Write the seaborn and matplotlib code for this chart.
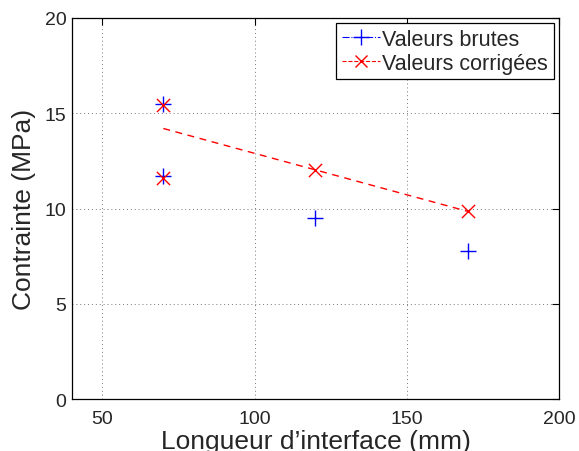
"""Contrainte vs longueur d'interface — valeurs brutes et corrigées."""

import matplotlib
matplotlib.use("Agg")
import matplotlib.pyplot as plt
import pandas as pd
import seaborn as sns
from matplotlib.lines import Line2D

# ─── Data ──────────────────────────────────────────────────────────────────

longueur = [70, 70, 120, 170]
brutes = [15.5, 11.7, 9.5, 7.75]
corrigees = [15.45, 11.6, 12.0, 9.85]

fit_x = [70, 170]
fit_y = [14.2, 9.85]

x_ticks = [50, 100, 150, 200]
y_ticks = [0, 5, 10, 15, 20]

# ─── Plot ──────────────────────────────────────────────────────────────────

sns.set_style("white")
plt.rcParams["font.family"] = ["Liberation Sans", "DejaVu Sans"]

df_b = pd.DataFrame({"x": longueur, "y": brutes})
df_c = pd.DataFrame({"x": longueur, "y": corrigees})
df_fit = pd.DataFrame({"x": fit_x, "y": fit_y})

fig = plt.figure(figsize=(5.79, 4.52), dpi=100)
ax = fig.add_axes([0.1244, 0.115, 0.841, 0.843])

sns.lineplot(data=df_fit, x="x", y="y", color="red", linestyle=(0, (5, 4)),
             linewidth=1, ax=ax)
sns.scatterplot(data=df_b, x="x", y="y", marker="+", s=135, color="blue",
                linewidth=1, ax=ax, zorder=3)
sns.scatterplot(data=df_c, x="x", y="y", marker="x", s=90, color="red",
                linewidth=1, ax=ax, zorder=4)

ax.set_xlim(40, 200)
ax.set_ylim(0, 20)
ax.set_xticks(x_ticks)
ax.set_yticks(y_ticks)
ax.tick_params(direction="in", length=5, width=0.8, labelsize=14,
               top=True, right=True, color="black", pad=4)
ax.tick_params(axis="x", pad=8)
ax.grid(True, linestyle=(0, (1, 3)), color="#777777", linewidth=0.7)
for s in ax.spines.values():
    s.set_color("black")
    s.set_linewidth(0.9)

ax.set_xlabel("Longueur d\u2019interface (mm)", fontsize=19, labelpad=1)
ax.set_ylabel("Contrainte (MPa)", fontsize=19, labelpad=6)

handles = [
    Line2D([], [], color="blue", linestyle="-.", marker="+", markersize=12,
           linewidth=0.8),
    Line2D([], [], color="red", linestyle="--", marker="x", markersize=9,
           linewidth=0.8),
]
leg = ax.legend(handles, ["Valeurs brutes", "Valeurs corrig\u00e9es"],
                loc="upper right", fontsize=15.5, frameon=True, fancybox=False,
                edgecolor="black", framealpha=1, borderaxespad=0.25,
                handlelength=1.8, handletextpad=0.1, borderpad=0.25,
                labelspacing=0.15)
leg.get_frame().set_linewidth(0.9)

fig.savefig("out.png", dpi=100)
